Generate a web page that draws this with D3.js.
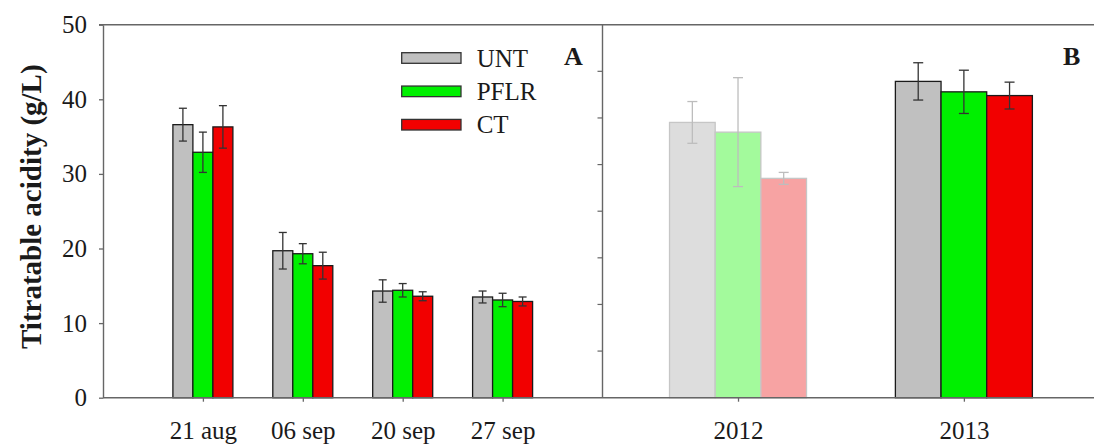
<!DOCTYPE html>
<html>
<head>
<meta charset="utf-8">
<script src="https://cdn.jsdelivr.net/npm/d3@7"></script>
<style>
  html, body { margin: 0; padding: 0; background: #fff; }
  svg { display: block; }
  text { font-family: "Liberation Serif", "Times New Roman", serif; fill: #1a1a1a; }
</style>
</head>
<body>
<svg id="chart" width="1094" height="446"></svg>
<script>
// Titratable acidity (g/L): panel A = sampling dates, panel B = seasons
const treatments = ["UNT", "PFLR", "CT"];
const sampleDates = ["21 aug", "06 sep", "20 sep", "27 sep"];
const untDates  = [36.6, 19.7, 14.3, 13.5];
const pflrDates = [32.9, 19.3, 14.4, 13.1];
const ctDates   = [36.3, 17.7, 13.6, 12.9];
const untDatesErr  = [2.2, 2.45, 1.5, 0.8];
const pflrDatesErr = [2.7, 1.35, 0.9, 0.9];
const ctDatesErr   = [2.85, 1.8, 0.6, 0.6];

const seasons = ["2012", "2013"];
const untSeason  = [36.9, 42.4];
const pflrSeason = [35.6, 41.0];
const ctSeason   = [29.4, 40.5];
const untSeasonErr  = [2.8, 2.5];
const pflrSeasonErr = [7.3, 2.9];
const ctSeasonErr   = [0.8, 1.8];

const yTicks = [0, 10, 20, 30, 40, 50];

const fills = { UNT: "#c0c0c0", PFLR: "#00f000", CT: "#f20000" };
const fadedFills = { UNT: "#dddddd", PFLR: "#a3fa9c", CT: "#f7a3a3" };

const svg = d3.select("#chart");
const axisColor = "#666";

const left = 103, mid = 602.5, right = 1094;
const y = d3.scaleLinear().domain([0, 50]).range([397.7, 24.7]);

const xA = d3.scalePoint().domain(sampleDates).range([left, mid]).padding(1);
const xB = d3.scalePoint().domain(seasons).range([mid, 1099.4]).padding(0.6);
const innerA = d3.scaleBand().domain(treatments).range([-30, 30]);
const innerB = d3.scaleBand().domain(treatments).range([-68.5, 68.5]);

function rows(cats, vals, errs) {
  return cats.map((c, i) => treatments.map((t, k) => ({
    cat: c, idx: i, trt: t, v: vals[k][i], e: errs[k][i]
  }))).flat();
}
const dataA = rows(sampleDates, [untDates, pflrDates, ctDates], [untDatesErr, pflrDatesErr, ctDatesErr]);
const dataB = rows(seasons, [untSeason, pflrSeason, ctSeason], [untSeasonErr, pflrSeasonErr, ctSeasonErr]);

function drawBars(data, x, inner, cap, faded) {
  const g = svg.append("g");
  const isFaded = d => faded(d);
  g.selectAll("rect").data(data).enter().append("rect")
    .attr("x", d => x(d.cat) + inner(d.trt))
    .attr("y", d => y(d.v))
    .attr("width", inner.bandwidth())
    .attr("height", d => y(0) - y(d.v))
    .attr("fill", d => isFaded(d) ? fadedFills[d.trt] : fills[d.trt])
    .attr("stroke", d => isFaded(d) ? "#c6c6c6" : "#1a1a1a")
    .attr("stroke-width", 1.3);
  const eb = g.selectAll("g.err").data(data).enter().append("g")
    .attr("stroke", d => isFaded(d) ? "#bdbdbd" : "#333")
    .attr("stroke-width", 1.3);
  const cx = d => x(d.cat) + inner(d.trt) + inner.bandwidth() / 2;
  eb.append("line").attr("x1", cx).attr("x2", cx)
    .attr("y1", d => y(d.v + d.e)).attr("y2", d => y(d.v - d.e));
  eb.append("line").attr("x1", d => cx(d) - cap / 2).attr("x2", d => cx(d) + cap / 2)
    .attr("y1", d => y(d.v + d.e)).attr("y2", d => y(d.v + d.e));
  eb.append("line").attr("x1", d => cx(d) - cap / 2).attr("x2", d => cx(d) + cap / 2)
    .attr("y1", d => y(d.v - d.e)).attr("y2", d => y(d.v - d.e));
}

drawBars(dataA, xA, innerA, 8, () => false);
drawBars(dataB, xB, innerB, 10, d => d.cat === "2012");

// Frame lines
svg.append("line").attr("x1", left - 4).attr("x2", right).attr("y1", y(50)).attr("y2", y(50))
  .attr("stroke", axisColor).attr("stroke-width", 1.4);
svg.append("line").attr("x1", mid).attr("x2", mid).attr("y1", y(50)).attr("y2", y(0))
  .attr("stroke", axisColor).attr("stroke-width", 1.4);
// inner ticks on the divider
svg.append("g").selectAll("line").data(d3.range(1, 8)).enter().append("line")
  .attr("x1", mid - 5).attr("x2", mid)
  .attr("y1", i => y(50 * i / 8)).attr("y2", i => y(50 * i / 8))
  .attr("stroke", axisColor).attr("stroke-width", 1.2);

// Y axis
const yAxis = svg.append("g").attr("transform", `translate(${left},0)`)
  .call(d3.axisLeft(y).tickValues(yTicks).tickSize(4).tickPadding(12).tickSizeOuter(0));
yAxis.select(".domain").attr("stroke", axisColor).attr("stroke-width", 1.4);
yAxis.selectAll(".tick line").attr("stroke", axisColor).attr("stroke-width", 1.3);
yAxis.selectAll(".tick text").attr("font-size", 25).attr("fill", "#1a1a1a")
  .attr("font-family", "Liberation Serif");

// X axes
function xAxis(scale, x0, x1) {
  const g = svg.append("g").attr("transform", `translate(0,${y(0)})`)
    .call(d3.axisBottom(scale).tickSize(4).tickPadding(20).tickSizeOuter(0));
  g.select(".domain").remove();
  g.selectAll(".tick line").attr("stroke", axisColor).attr("stroke-width", 1.3);
  g.selectAll(".tick text").attr("font-size", 25).attr("fill", "#1a1a1a")
    .attr("font-family", "Liberation Serif");
}
xAxis(xA);
xAxis(xB);
svg.append("line").attr("x1", left).attr("x2", right).attr("y1", y(0)).attr("y2", y(0))
  .attr("stroke", axisColor).attr("stroke-width", 1.4);

// Y title
svg.append("text")
  .attr("transform", `translate(41,206.7) rotate(-90)`)
  .attr("text-anchor", "middle")
  .attr("font-size", 29).attr("font-weight", "bold")
  .text("Titratable acidity (g/L)");

// Legend
const legend = svg.append("g");
const legendY = d3.scalePoint().domain(treatments).range([58, 124.7]);
treatments.forEach(t => {
  legend.append("rect").attr("x", 401.7).attr("y", legendY(t) - 5.3)
    .attr("width", 59.3).attr("height", 10.6)
    .attr("fill", fills[t]).attr("stroke", "#333").attr("stroke-width", 1.3);
  legend.append("text").attr("x", 476.7).attr("y", legendY(t) + 8.7)
    .attr("font-size", 25).text(t);
});

// Panel letters
svg.append("text").attr("x", 564).attr("y", 65).attr("font-size", 26)
  .attr("font-weight", "bold").text("A");
svg.append("text").attr("x", 1063).attr("y", 65).attr("font-size", 26)
  .attr("font-weight", "bold").text("B");
</script>
</body>
</html>
